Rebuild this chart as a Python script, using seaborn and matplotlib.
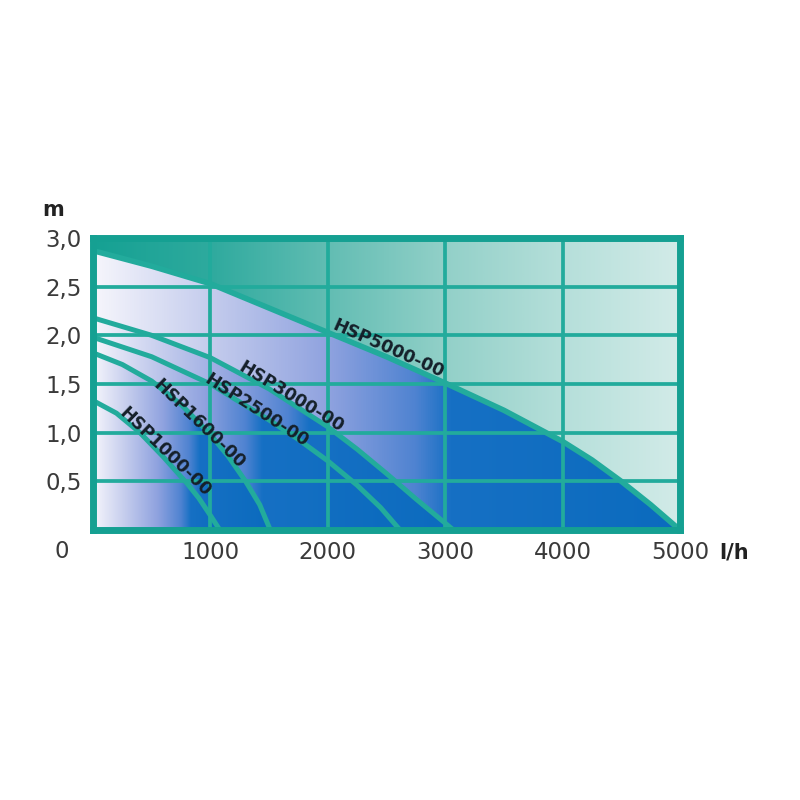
import numpy as np
import matplotlib.pyplot as plt
import seaborn as sns
from matplotlib.colors import LinearSegmentedColormap
from matplotlib.patches import Polygon

sns.set_style("white")
plt.rcParams['font.family'] = ['DejaVu Sans']

# -----------------------------
# Data (flow l/h, head m)
# -----------------------------
models = ["HSP1000-00", "HSP1600-00", "HSP2500-00", "HSP3000-00", "HSP5000-00"]

flow_1000 = [0, 200, 400, 600, 800, 900, 1000, 1080]
head_1000 = [1.33, 1.20, 1.00, 0.75, 0.48, 0.33, 0.15, 0.0]

flow_1600 = [0, 250, 500, 750, 1000, 1150, 1300, 1420, 1510]
head_1600 = [1.82, 1.70, 1.53, 1.29, 0.98, 0.76, 0.50, 0.26, 0.0]

flow_2500 = [0, 500, 1000, 1500, 1750, 2000, 2250, 2450, 2615]
head_2500 = [1.98, 1.78, 1.50, 1.13, 0.93, 0.71, 0.46, 0.23, 0.0]

flow_3000 = [0, 500, 1000, 1500, 2000, 2250, 2500, 2750, 3070]
head_3000 = [2.18, 2.00, 1.77, 1.45, 1.06, 0.83, 0.58, 0.32, 0.0]

flow_5000 = [0, 500, 1000, 1500, 2000, 2500, 3000, 3500, 4000, 4250, 4500, 4750, 5000]
head_5000 = [2.87, 2.71, 2.53, 2.28, 2.03, 1.78, 1.51, 1.23, 0.91, 0.72, 0.50, 0.26, 0.0]

x_ticks = [1000, 2000, 3000, 4000, 5000]
x_labels = ["1000", "2000", "3000", "4000", "5000"]
y_ticks = [0.5, 1.0, 1.5, 2.0, 2.5, 3.0]
y_labels = ["0,5", "1,0", "1,5", "2,0", "2,5", "3,0"]

curves = [(flow_1000, head_1000), (flow_1600, head_1600), (flow_2500, head_2500),
          (flow_3000, head_3000), (flow_5000, head_5000)]

# -----------------------------
# Style / layout
# -----------------------------
teal = "#22ab9c"
teal_dark = "#15a092"
dark_reach = [0.77, 0.6, 0.55, 0.6, 0.61]   # where each fill turns dark blue
label_pos = [(613, 0.80), (903, 1.09), (1393, 1.23), (1691, 1.37), (2513, 1.86)]
label_rot = [-44, -44, -33, -31.5, -24]

fig = plt.figure(figsize=(8, 8), dpi=100)
ax = fig.add_axes([0.11625, 0.3375, 0.73375, 0.365])

# teal background (area above the biggest curve)
teal_cmap = LinearSegmentedColormap.from_list(
    "teal", [(0.0, "#15a193"), (0.2, "#2eaa9e"), (0.4, "#62bdb3"),
             (0.6, "#92d0c8"), (0.8, "#b5dfda"), (1.0, "#d2ebe8")])
grad = np.linspace(0, 1, 512).reshape(1, -1)
ax.imshow(grad, cmap=teal_cmap, extent=[0, 5000, 0, 3], aspect="auto",
          origin="lower", zorder=0, interpolation="bilinear")

# blue gradient fills, biggest first so smaller ones sit on top
order = [4, 3, 2, 1, 0]
for z, i in enumerate(order):
    xs, ys = curves[i]
    xmax = xs[-1]
    r = dark_reach[i]
    cmap = LinearSegmentedColormap.from_list(
        "blue%d" % i, [(0.0, "#f6f6fc"), (0.33 * r, "#c4cced"), (0.66 * r, "#8fa2df"),
                       (0.9 * r, "#4f83d1"), (r, "#1670c4"), (1.0, "#0b6bbe")])
    im = ax.imshow(grad, cmap=cmap, extent=[0, xmax, 0, 3], aspect="auto",
                   origin="lower", zorder=1 + z * 0.01, interpolation="bilinear")
    poly = Polygon(np.column_stack([[0] + list(xs) + [xmax], [0] + list(ys) + [0]]),
                   closed=True, transform=ax.transData, facecolor="none", edgecolor="none")
    ax.add_patch(poly)
    im.set_clip_path(poly)

# curves
for i, (xs, ys) in enumerate(curves):
    lw = 4.0 if i == 4 else 3.6
    sns.lineplot(x=xs, y=ys, ax=ax, color=teal, linewidth=lw, zorder=3,
                 solid_joinstyle="round", solid_capstyle="butt")

# model labels along the curves
for name, (lx, ly), rot in zip(models, label_pos, label_rot):
    ax.text(lx, ly, name, rotation=rot, rotation_mode="anchor", ha="center", va="center",
            fontsize=12.5, fontweight="bold", color="#15202a", zorder=5)

ax.set_xlim(0, 5000)
ax.set_ylim(0, 3)
ax.set_xticks(x_ticks)
ax.set_xticklabels(x_labels)
ax.set_yticks(y_ticks)
ax.set_yticklabels(y_labels)
ax.grid(True, color=teal, linewidth=2.7)
ax.set_axisbelow(False)
ax.tick_params(axis="both", length=0, labelsize=16.5, colors="#3a3a3a")
ax.tick_params(axis="x", pad=8)
ax.tick_params(axis="y", pad=8)
for s in ax.spines.values():
    s.set_color(teal_dark)
    s.set_linewidth(5)
    s.set_zorder(4)

ax.text(-0.053, -0.075, "0", transform=ax.transAxes, ha="center", va="center",
        fontsize=16.5, color="#3a3a3a")
ax.text(-0.068, 1.096, "m", transform=ax.transAxes, ha="center", va="center",
        fontsize=15, fontweight="bold", color="#222222")
ax.text(1.092, -0.078, "l/h", transform=ax.transAxes, ha="center", va="center",
        fontsize=15, fontweight="bold", color="#222222")

fig.savefig("out.png", dpi=100)
